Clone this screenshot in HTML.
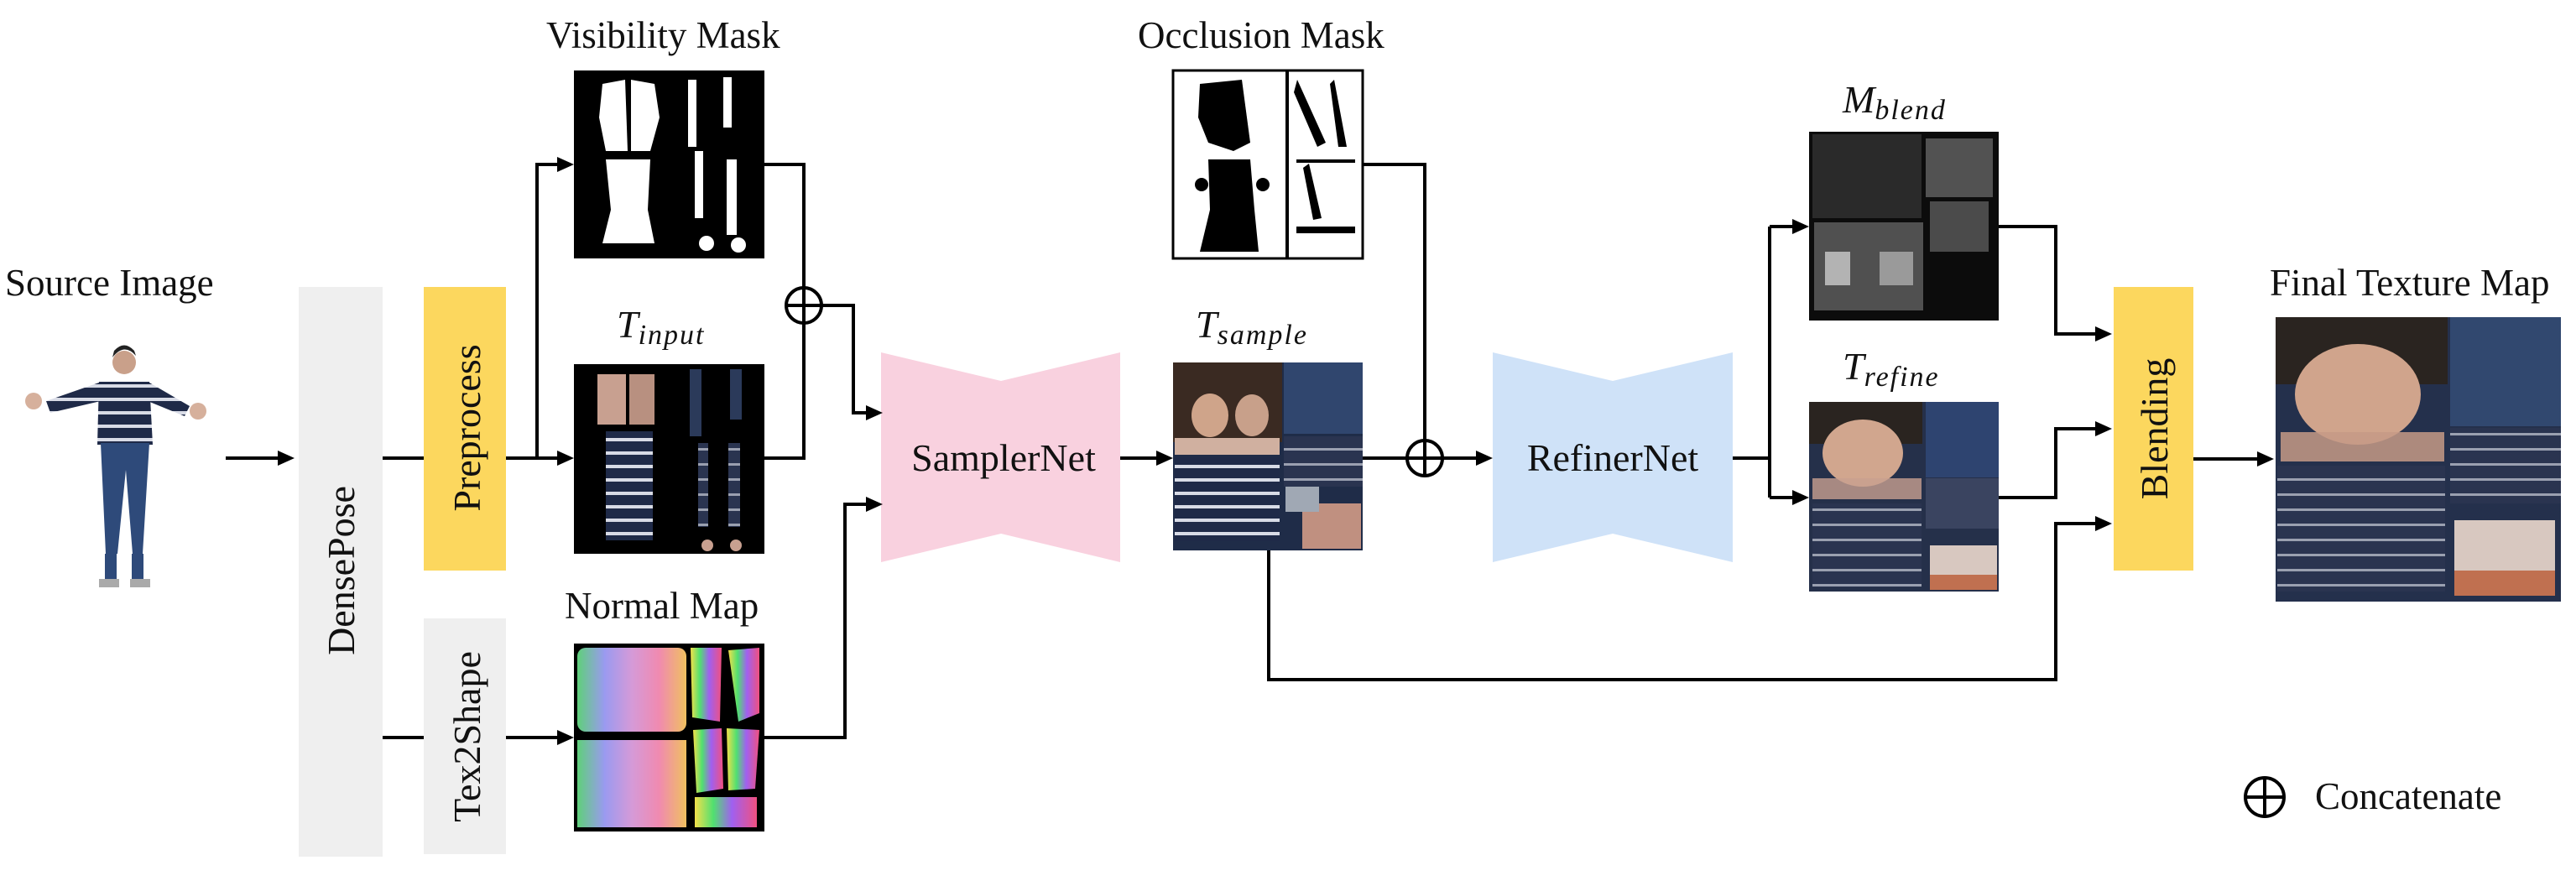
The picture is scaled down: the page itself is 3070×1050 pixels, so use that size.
<!DOCTYPE html>
<html><head><meta charset="utf-8"><style>
html,body{margin:0;padding:0;background:#fff;}
svg{display:block;font-family:"Liberation Serif","Times New Roman","DejaVu Serif",serif;}
text{font-family:"Liberation Serif","Times New Roman","DejaVu Serif",serif;fill:#111;}
</style></head><body>
<svg width="3070" height="1050" viewBox="0 0 3070 1050" xmlns="http://www.w3.org/2000/svg" font-family="Liberation Serif, serif">
<defs>
<linearGradient id="rain" x1="0" y1="0" x2="1" y2="0">
<stop offset="0" stop-color="#5fd07a"/><stop offset="0.25" stop-color="#9a9af0"/><stop offset="0.5" stop-color="#d59ad8"/><stop offset="0.75" stop-color="#f08ab0"/><stop offset="1" stop-color="#f0c060"/></linearGradient>
<linearGradient id="rain2" x1="0" y1="0" x2="1" y2="0">
<stop offset="0" stop-color="#f3e04a"/><stop offset="0.3" stop-color="#50e070"/><stop offset="0.6" stop-color="#a060f0"/><stop offset="1" stop-color="#f05080"/></linearGradient>
<pattern id="stripe" width="20" height="16" patternUnits="userSpaceOnUse"><rect width="20" height="16" fill="#1f2a48"/><rect y="10" width="20" height="4" fill="#d8dbe6"/></pattern>
<pattern id="stripe2" width="20" height="18" patternUnits="userSpaceOnUse"><rect width="20" height="18" fill="#2a3450"/><rect y="12" width="20" height="3" fill="#9aa0b0"/></pattern>
</defs>

<!-- Labels -->
<text x="6" y="352" font-size="45" font-family="Liberation Serif, serif">Source Image</text>
<text x="651" y="57" font-size="45" font-family="Liberation Serif, serif">Visibility Mask</text>
<text x="1356" y="57" font-size="45" font-family="Liberation Serif, serif">Occlusion Mask</text>
<text x="673" y="737" font-size="45" font-family="Liberation Serif, serif">Normal Map</text>
<text x="2705" y="352" font-size="45" font-family="Liberation Serif, serif">Final Texture Map</text>
<text x="735" y="402" font-size="46" font-style="italic" font-family="Liberation Serif, serif">T<tspan font-size="34" dy="8" letter-spacing="2">input</tspan></text>
<text x="1425" y="402" font-size="46" font-style="italic" font-family="Liberation Serif, serif">T<tspan font-size="34" dy="8" letter-spacing="2">sample</tspan></text>
<text x="2196" y="134" font-size="46" font-style="italic" font-family="Liberation Serif, serif">M<tspan font-size="34" dy="8" letter-spacing="2">blend</tspan></text>
<text x="2196" y="452" font-size="46" font-style="italic" font-family="Liberation Serif, serif">T<tspan font-size="34" dy="8" letter-spacing="2">refine</tspan></text>

<!-- Source person -->
<g>
<circle cx="148" cy="432" r="14" fill="#c9a08a"/>
<path d="M134 426 Q148 408 162 424 L160 418 Q148 405 136 418Z" fill="#222"/>
<path d="M118 455 L178 455 L182 530 L116 530Z" fill="url(#stripe)"/>
<path d="M118 456 L55 478 L60 492 L120 478Z" fill="url(#stripe)"/>
<path d="M178 456 L226 484 L220 496 L176 478Z" fill="url(#stripe)"/>
<circle cx="40" cy="478" r="10" fill="#d6b09c"/><circle cx="236" cy="490" r="10" fill="#d6b09c"/>
<path d="M120 528 L178 528 L170 660 L158 660 L150 560 L140 660 L126 660Z" fill="#2e4a7a"/>
<rect x="125" y="660" width="14" height="30" fill="#2e4a7a"/><rect x="157" y="660" width="14" height="30" fill="#2e4a7a"/>
<rect x="118" y="690" width="24" height="10" fill="#aaa"/><rect x="155" y="690" width="24" height="10" fill="#aaa"/>
</g>

<!-- Bars -->
<rect x="356" y="342" width="100" height="679" fill="#efefef"/>
<rect x="505" y="342" width="98" height="338" fill="#fcd75e"/>
<rect x="505" y="737" width="98" height="281" fill="#efefef"/>
<rect x="2519" y="342" width="95" height="338" fill="#fcd75e"/>
<text transform="translate(422,680) rotate(-90)" font-size="46" text-anchor="middle" font-family="Liberation Serif, serif">DensePose</text>
<text transform="translate(572,510) rotate(-90)" font-size="46" text-anchor="middle" font-family="Liberation Serif, serif">Preprocess</text>
<text transform="translate(572,878) rotate(-90)" font-size="46" text-anchor="middle" font-family="Liberation Serif, serif">Tex2Shape</text>
<text transform="translate(2583,511) rotate(-90)" font-size="46" text-anchor="middle" font-family="Liberation Serif, serif">Blending</text>

<!-- Bowties -->
<polygon points="1050,420 1193,454 1335,420 1335,670 1193,636 1050,670" fill="#f9d1df"/>
<text x="1196" y="561" font-size="46" text-anchor="middle" font-family="Liberation Serif, serif">SamplerNet</text>
<polygon points="1779,420 1922,454 2065,420 2065,670 1922,636 1779,670" fill="#cfe2f8"/>
<text x="1922" y="561" font-size="46" text-anchor="middle" font-family="Liberation Serif, serif">RefinerNet</text>

<!-- Visibility mask -->
<rect x="684" y="84" width="227" height="224" fill="#000"/>
<g fill="#fff">
<path d="M718 100 L745 95 L748 180 L722 180 L714 140Z"/><path d="M752 95 L780 100 L786 140 L775 180 L752 180Z"/>
<path d="M722 190 L775 190 L772 250 L780 290 L718 290 L728 250Z"/>
<rect x="820" y="95" width="10" height="80" /><rect x="862" y="92" width="10" height="60"/>
<rect x="828" y="180" width="10" height="80"/><rect x="866" y="190" width="12" height="90"/>
<circle cx="842" cy="290" r="9"/><circle cx="880" cy="292" r="9"/>
</g>
<!-- T input -->
<rect x="684" y="434" width="227" height="226" fill="#000"/>
<rect x="712" y="446" width="34" height="60" fill="#c8a090"/><rect x="750" y="446" width="30" height="60" fill="#b89080"/>
<rect x="722" y="514" width="56" height="130" fill="url(#stripe)"/>
<rect x="822" y="440" width="14" height="80" fill="#2b3a5a"/><rect x="870" y="440" width="14" height="60" fill="#2b3a5a"/>
<rect x="832" y="528" width="12" height="100" fill="url(#stripe2)"/><rect x="868" y="528" width="14" height="100" fill="url(#stripe2)"/>
<circle cx="843" cy="650" r="7" fill="#c8a090"/><circle cx="877" cy="650" r="7" fill="#c8a090"/>
<!-- Normal map -->
<rect x="684" y="767" width="227" height="224" fill="#000"/>
<rect x="688" y="772" width="130" height="100" rx="10" fill="url(#rain)"/>
<rect x="688" y="882" width="130" height="104" fill="url(#rain)"/>
<path d="M823 772 L860 772 L858 860 L825 855Z" fill="url(#rain2)"/>
<path d="M868 775 L905 772 L905 850 L880 860Z" fill="url(#rain2)"/>
<path d="M826 870 L860 868 L862 940 L830 945Z" fill="url(#rain2)"/>
<path d="M866 868 L905 870 L900 940 L868 942Z" fill="url(#rain2)"/>
<rect x="828" y="950" width="74" height="36" fill="url(#rain2)"/>

<!-- Occlusion mask -->
<rect x="1398" y="84" width="226" height="224" fill="#fff" stroke="#000" stroke-width="3"/>
<g fill="#000">
<path d="M1430 100 L1480 95 L1490 170 L1470 180 L1440 170 L1428 140Z"/>
<path d="M1440 190 L1490 190 L1495 250 L1500 300 L1430 300 L1442 250Z"/>
<circle cx="1432" cy="220" r="8"/><circle cx="1505" cy="220" r="8"/>
<rect x="1532" y="84" width="4" height="224"/>
<path d="M1546 95 L1580 170 L1570 175 L1542 110Z"/><path d="M1590 95 L1605 175 L1595 175 L1585 100Z"/>
<rect x="1545" y="190" width="70" height="4"/><path d="M1560 195 L1575 260 L1565 262 L1553 200Z"/>
<rect x="1545" y="270" width="70" height="8"/>
</g>

<!-- T sample -->
<rect x="1398" y="432" width="226" height="224" fill="#1f2c48"/>
<rect x="1398" y="432" width="130" height="95" fill="#3a2a22"/>
<ellipse cx="1442" cy="495" rx="22" ry="26" fill="#cfa48a"/><ellipse cx="1492" cy="495" rx="20" ry="25" fill="#c8a08a"/>
<rect x="1400" y="522" width="125" height="20" fill="#d0b0a0"/>
<rect x="1400" y="545" width="125" height="100" fill="url(#stripe)"/>
<rect x="1530" y="432" width="94" height="85" fill="#30466e"/>
<rect x="1530" y="520" width="94" height="60" fill="url(#stripe2)"/>
<rect x="1552" y="600" width="70" height="54" fill="#c09080"/>
<rect x="1532" y="580" width="40" height="30" fill="#a0a8b4"/>

<!-- M blend -->
<rect x="2156" y="157" width="226" height="225" fill="#0c0c0c"/>
<rect x="2160" y="160" width="130" height="100" fill="#2a2a2a"/>
<rect x="2295" y="165" width="80" height="70" fill="#707070" opacity="0.7"/>
<rect x="2162" y="265" width="130" height="105" fill="#888" opacity="0.55"/>
<rect x="2175" y="300" width="30" height="40" fill="#ddd" opacity="0.7"/>
<rect x="2240" y="300" width="40" height="40" fill="#ccc" opacity="0.6"/>
<rect x="2300" y="240" width="70" height="60" fill="#666" opacity="0.7"/>

<!-- T refine -->
<rect x="2156" y="479" width="226" height="226" fill="#25304a"/>
<rect x="2156" y="479" width="135" height="50" fill="#2a2420"/>
<ellipse cx="2220" cy="540" rx="48" ry="40" fill="#d1a68e"/>
<rect x="2160" y="570" width="130" height="25" fill="#c8a090" opacity="0.8"/>
<rect x="2160" y="600" width="130" height="100" fill="url(#stripe2)"/>
<rect x="2295" y="479" width="87" height="90" fill="#2e4470"/>
<rect x="2295" y="570" width="87" height="60" fill="#3a4460"/>
<rect x="2300" y="650" width="80" height="50" fill="#d8c8c0"/>
<rect x="2300" y="685" width="80" height="18" fill="#c07050"/>

<!-- Final -->
<rect x="2712" y="378" width="340" height="339" fill="#24304c"/>
<rect x="2712" y="378" width="205" height="80" fill="#2a2420"/>
<ellipse cx="2810" cy="470" rx="75" ry="60" fill="#d0a48c"/>
<rect x="2718" y="515" width="195" height="35" fill="#c69a86" opacity="0.85"/>
<rect x="2714" y="555" width="200" height="150" fill="url(#stripe2)"/>
<rect x="2920" y="378" width="132" height="130" fill="#31486f"/>
<rect x="2920" y="510" width="132" height="90" fill="url(#stripe2)"/>
<rect x="2925" y="620" width="120" height="65" fill="#d8c8c0"/>
<rect x="2925" y="680" width="120" height="30" fill="#c07050"/>

<!-- Connectors -->
<g stroke="#000" stroke-width="4" fill="none">
<line x1="269" y1="546" x2="335" y2="546"/>
<line x1="456" y1="546" x2="505" y2="546"/>
<line x1="456" y1="879" x2="505" y2="879"/>
<polyline points="603,546 668,546"/>
<polyline points="640,546 640,196 668,196"/>
<line x1="603" y1="879" x2="668" y2="879"/>
<polyline points="911,196 958,196 958,385"/>
<polyline points="911,546 958,546 958,343"/>
<polyline points="937,364 1017,364 1017,492 1036,492"/>
<polyline points="911,879 1007,879 1007,601 1036,601"/>
<line x1="1335" y1="546" x2="1382" y2="546"/>
<line x1="1624" y1="546" x2="1763" y2="546"/>
<polyline points="1624,196 1698,196 1698,567"/>
<polyline points="1512,656 1512,810 2450,810 2450,624 2500,624"/>
<polyline points="2065,546 2109,546"/>
<polyline points="2109,270 2109,593"/>
<line x1="2109" y1="270" x2="2140" y2="270"/>
<line x1="2109" y1="593" x2="2140" y2="593"/>
<polyline points="2382,270 2450,270 2450,398 2500,398"/>
<polyline points="2382,593 2450,593 2450,511 2500,511"/>
<line x1="2614" y1="547" x2="2694" y2="547"/>
<circle cx="958" cy="364" r="21" fill="#fff"/>
<line x1="937" y1="364" x2="979" y2="364"/><line x1="958" y1="343" x2="958" y2="385"/>
<circle cx="1698" cy="546" r="21" fill="#fff"/>
<line x1="1677" y1="546" x2="1719" y2="546"/><line x1="1698" y1="525" x2="1698" y2="567"/>
<circle cx="2699" cy="950" r="23"/>
<line x1="2676" y1="950" x2="2722" y2="950"/><line x1="2699" y1="927" x2="2699" y2="973"/>
</g>
<g fill="#000">
<polygon points="351,546 331,537 331,555"/>
<polygon points="684,546 664,537 664,555"/>
<polygon points="684,196 664,187 664,205"/>
<polygon points="684,879 664,870 664,888"/>
<polygon points="1052,492 1032,483 1032,501"/>
<polygon points="1052,601 1032,592 1032,610"/>
<polygon points="1398,546 1378,537 1378,555"/>
<polygon points="1779,546 1759,537 1759,555"/>
<polygon points="2156,270 2136,261 2136,279"/>
<polygon points="2156,593 2136,584 2136,602"/>
<polygon points="2517,398 2497,389 2497,407"/>
<polygon points="2517,511 2497,502 2497,520"/>
<polygon points="2517,624 2497,615 2497,633"/>
<polygon points="2710,547 2690,538 2690,556"/>
</g>
<text x="2759" y="964" font-size="45" font-family="Liberation Serif, serif">Concatenate</text>
</svg>
</body></html>
